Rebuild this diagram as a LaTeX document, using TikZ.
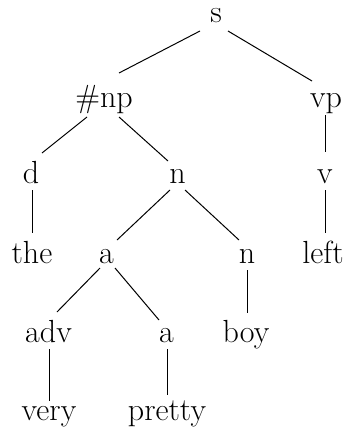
\documentclass[tikz,border=0pt]{standalone}
\usepackage{fontspec}
\usetikzlibrary{calc}
\begin{document}
\begin{tikzpicture}[x=1pt,y=-1pt,
  lbl/.style={anchor=base,inner sep=0pt,font=\fontsize{32}{38}\selectfont},
  edge/.style={line width=1pt}]
\useasboundingbox (0,0) rectangle (346,428);
\node[lbl] (s) at (216,23) {s};
\node[lbl] (np) at (104,107) {\#np};
\node[lbl] (vp) at (326,107) {vp};
\node[lbl] (d) at (31,183) {d};
\node[lbl] (n1) at (177.5,183) {n};
\node[lbl] (v) at (325,183) {v};
\node[lbl] (the) at (32,263) {the};
\node[lbl] (a1) at (106.5,263) {a};
\node[lbl] (n2) at (247,263) {n};
\node[lbl] (left) at (323,263) {left};
\node[lbl] (adv) at (48.5,342) {adv};
\node[lbl] (a2) at (166.5,342) {a};
\node[lbl] (boy) at (246,342) {boy};
\node[lbl] (very) at (49,420) {very};
\node[lbl] (pretty) at (167,420) {pretty};
\draw[edge] ($(s.base)+(-16,8)$) -- ($(np.base)+(15,-34)$);
\draw[edge] ($(s.base)+(12,8)$) -- ($(vp.base)+(-14,-26)$);
\draw[edge] ($(np.base)+(-17,10)$) -- ($(d.base)+(11,-30)$);
\draw[edge] ($(np.base)+(15,10)$) -- ($(n1.base)+(-9.5,-22)$);
\draw[edge] ($(vp.base)+(-1,8)$) -- ($(v.base)+(0,-31)$);
\draw[edge] ($(d.base)+(1,7)$) -- ($(the.base)+(0,-30)$);
\draw[edge] ($(n1.base)+(-7.5,7)$) -- ($(a1.base)+(10.5,-23)$);
\draw[edge] ($(n1.base)+(7.5,7)$) -- ($(n2.base)+(-8,-23)$);
\draw[edge] ($(v.base)+(0,7)$) -- ($(left.base)+(2,-30)$);
\draw[edge] ($(a1.base)+(-6.5,5)$) -- ($(adv.base)+(8.5,-30)$);
\draw[edge] ($(a1.base)+(8.5,5)$) -- ($(a2.base)+(-7.5,-22)$);
\draw[edge] ($(n2.base)+(0,7)$) -- ($(boy.base)+(1,-29)$);
\draw[edge] ($(adv.base)+(0.5,7)$) -- ($(very.base)+(0,-19)$);
\draw[edge] ($(a2.base)+(0.5,7)$) -- ($(pretty.base)+(0,-25)$);
\end{tikzpicture}
\end{document}
